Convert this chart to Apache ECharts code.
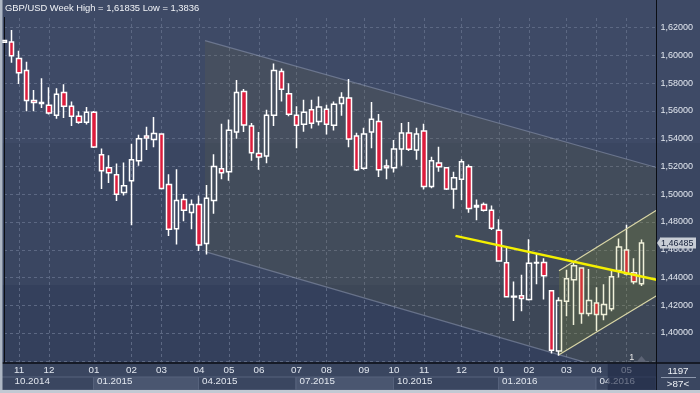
<!DOCTYPE html>
<html><head><meta charset="utf-8">
<script src="https://cdn.jsdelivr.net/npm/echarts@6/dist/echarts.min.js"></script>
<style>html,body{margin:0;padding:0;background:#3c4862;}#c{width:700px;height:393px;}</style>
</head><body><div id="c"></div>
<script>
// ---- data (GBP/USD weekly) ----
const opens = [1.6095,1.6098,1.5979,1.5891,1.5676,1.5654,1.5641,1.5569,1.5734,1.5634,1.5562,1.5519,1.5591,1.5284,1.5191,1.5141,1.5012,1.5098,1.5241,1.5419,1.5395,1.5434,1.5071,1.4752,1.4962,1.4869,1.4926,1.4645,1.4955,1.5184,1.5162,1.5448,1.5741,1.5491,1.5293,1.5276,1.5569,1.5884,1.5724,1.5569,1.5505,1.5609,1.5524,1.5612,1.5498,1.5654,1.5693,1.5419,1.5188,1.5448,1.5525,1.5204,1.5191,1.5326,1.5441,1.5319,1.5455,1.5055,1.5226,1.5191,1.5038,1.5109,1.5198,1.4909,1.4926,1.4884,1.4741,1.4507,1.4259,1.4269,1.4241,1.4504,1.4509,1.4305,1.3871,1.4229,1.4384,1.4469,1.4141,1.4216,1.4134,1.4174,1.4450,1.4598,1.4434,1.4355];
const closes = [1.6109,1.5998,1.5876,1.5676,1.5662,1.5661,1.5586,1.5721,1.5634,1.5562,1.5519,1.5591,1.5341,1.5169,1.5155,1.5000,1.5062,1.5248,1.5400,1.5405,1.5438,1.5041,1.4748,1.4955,1.4884,1.4926,1.4634,1.4971,1.5200,1.5155,1.5462,1.5734,1.5500,1.5300,1.5269,1.5569,1.5891,1.5757,1.5576,1.5498,1.5591,1.5512,1.5629,1.5505,1.5648,1.5698,1.5398,1.5176,1.5434,1.5541,1.5176,1.5191,1.5326,1.5441,1.5325,1.5434,1.5055,1.5241,1.5198,1.5038,1.5119,1.5234,1.4898,1.4919,1.4884,1.4755,1.4519,1.4262,1.4264,1.4248,1.4502,1.4509,1.4412,1.3876,1.4234,1.4391,1.4484,1.4141,1.4234,1.4134,1.4205,1.4405,1.4619,1.4426,1.4369,1.46485];
const lows = [1.6093,1.5948,1.5795,1.5598,1.5598,1.5621,1.5574,1.5545,1.5550,1.5491,1.5509,1.5502,1.5334,1.5038,1.5081,1.4952,1.4991,1.4776,1.5205,1.5319,1.5338,1.5034,1.4700,1.4638,1.4805,1.4748,1.4591,1.4566,1.4859,1.5109,1.5098,1.5400,1.5448,1.5241,1.5176,1.5224,1.5491,1.5669,1.5562,1.5331,1.5450,1.5474,1.5495,1.5431,1.5459,1.5566,1.5339,1.5168,1.5176,1.5332,1.5125,1.5109,1.5157,1.5205,1.5312,1.5248,1.5034,1.5043,1.5162,1.5031,1.4895,1.4959,1.4866,1.4812,1.4876,1.4743,1.4514,1.4257,1.4086,1.4157,1.4234,1.4352,1.4241,1.3852,1.3836,1.4121,1.4057,1.4066,1.4121,1.4014,1.4091,1.4157,1.4400,1.4414,1.4352,1.4338];
const highs = [1.6111,1.61835,1.6034,1.5955,1.5752,1.5836,1.5771,1.5764,1.5793,1.5669,1.5598,1.5629,1.5600,1.5329,1.5281,1.5221,1.5229,1.5364,1.5429,1.5486,1.5557,1.5439,1.5145,1.5181,1.5002,1.4962,1.4991,1.5066,1.5288,1.5509,1.5538,1.5824,1.5759,1.5514,1.5448,1.5609,1.5943,1.5907,1.5800,1.5634,1.5681,1.5681,1.5705,1.5645,1.5669,1.5736,1.5831,1.5443,1.5479,1.5664,1.5579,1.5250,1.5391,1.5514,1.5521,1.5479,1.5509,1.5271,1.5343,1.5195,1.5162,1.5252,1.5214,1.4962,1.4941,1.4919,1.4819,1.4621,1.4371,1.4419,1.4676,1.4574,1.4538,1.4307,1.4257,1.4455,1.4509,1.4471,1.4462,1.4329,1.4352,1.4448,1.4681,1.4781,1.4538,1.4674];
const slotCount = 88; // visible weekly slots (last two empty)
const monthTicks = {2:'11',6:'12',12:'01',17:'02',21:'03',26:'04',30:'05',34:'06',39:'07',43:'08',48:'09',52:'10',56:'11',61:'12',66:'01',70:'02',75:'03',79:'04',83:'05'};
const quarterTicks = {1:'10.2014',12:'01.2015',26:'04.2015',39:'07.2015',52:'10.2015',66:'01.2016',79:'04.2016'};
const yMin = 1.36, yMax = 1.64, yStep = 0.02;
const titleText = 'GBP/USD Week High = 1,61835 Low = 1,3836';
const lastPrice = 1.46485, lastPriceText = '1,46485';
// trend channels: [slot position, price]
const bigUpper = [[26.8, 1.6107], [87, 1.5193]];
const bigLower = [[26.8, 1.4586], [87, 1.3639]];
const smallUpper = [[74.0, 1.4448], [87, 1.4884]];
const smallLower = [[74.0, 1.3843], [87, 1.4269]];
const yellowLine = [[60.2, 1.4700], [87, 1.4384]];
const barCountText = '1197', visibleText = '>87<';

// ---- chart ----
const weeks = Array.from({length: slotCount}, (_, i) => 'W' + i);
const candleData = weeks.map((_, i) => i < opens.length ? [opens[i], closes[i], lows[i], highs[i]] : '-');
const FONT = 'Liberation Sans, Arial, sans-serif';
const LBL = '#e2e7ef';
const chart = echarts.init(document.getElementById('c'));
const option = {
  animation: false,
  backgroundColor: 'transparent',
  textStyle: {fontFamily: FONT},
  grid: {left: 4, top: -3.5, width: 652.5, height: 392, containLabel: false},
  xAxis: [
    {type: 'category', data: weeks, boundaryGap: false, position: 'bottom', offset: -26, z: 60,
     axisLine: {show: false}, axisTick: {show: false}, splitLine: {show: false},
     axisLabel: {interval: (i) => monthTicks[i] !== undefined, formatter: (v, i) => monthTicks[i] || '',
                 color: LBL, fontSize: 9.8, margin: 3}},
    {type: 'category', data: weeks, boundaryGap: false, position: 'bottom', z: 0,
     axisLine: {show: false}, axisTick: {show: false}, axisLabel: {show: false},
     splitLine: {show: true, interval: (i) => monthTicks[i] !== undefined, lineStyle: {color: '#5c6883', type: [3, 3], width: 1}}},
    {type: 'value', min: 0, max: slotCount - 1, show: false},
    {type: 'category', data: weeks, boundaryGap: false, position: 'bottom', offset: -15.5, z: 60,
     axisLine: {show: false}, axisTick: {show: false}, splitLine: {show: false},
     axisLabel: {interval: (i) => quarterTicks[i] !== undefined, formatter: (v, i) => quarterTicks[i] || '',
                 color: LBL, fontSize: 9.8, margin: 3.5, align: 'left', padding: [0, 0, 0, 3]}}
  ],
  yAxis: [{type: 'value', min: yMin, max: yMax, interval: yStep, position: 'right', z: 0,
     axisLine: {show: true, lineStyle: {color: '#0b0e14', width: 1}}, axisTick: {show: false},
     splitLine: {lineStyle: {color: '#5c6883', type: [3, 3], width: 1}},
     axisLabel: {margin: 4, color: LBL, fontSize: 9,
       formatter: (v) => (v < 1.39 || v > 1.63) ? '' : v.toFixed(5).replace('.', ',')}}],
  series: [
    {type: 'custom', xAxisIndex: 2, yAxisIndex: 0, z: 1, silent: true, data: [[0, 1.5]],
     renderItem: (params, api) => {
       const u0 = api.coord(bigUpper[0]), u1 = api.coord(bigUpper[1]);
       const l0 = api.coord(bigLower[0]), l1 = api.coord(bigLower[1]);
       return {type: 'group', children: [
         {type: 'polygon', shape: {points: [u0, u1, l1, l0]}, style: {fill: 'rgba(120,110,60,0.14)'}},
         {type: 'polyline', shape: {points: [u0, u1]}, style: {stroke: 'rgba(150,160,185,0.5)', lineWidth: 1.2, fill: null}},
         {type: 'polyline', shape: {points: [l0, l1]}, style: {stroke: 'rgba(150,160,185,0.5)', lineWidth: 1.2, fill: null}}
       ]};
     }},
    {type: 'candlestick', xAxisIndex: 0, yAxisIndex: 0, z: 2, data: candleData, barWidth: 5.2,
     itemStyle: {color: 'rgba(0,0,0,0)', color0: '#dc1c3c', borderColor: '#ffffff', borderColor0: '#ffffff', borderWidth: 1.5}},
    {type: 'custom', xAxisIndex: 2, yAxisIndex: 0, z: 3, silent: true, data: [[0, 1.5]],
     renderItem: (params, api) => {
       const u0 = api.coord(smallUpper[0]), u1 = api.coord(smallUpper[1]);
       const l0 = api.coord(smallLower[0]), l1 = api.coord(smallLower[1]);
       return {type: 'group', children: [
         {type: 'polygon', shape: {points: [u0, u1, l1, l0]}, style: {fill: 'rgba(160,165,30,0.17)'}},
         {type: 'polyline', shape: {points: [u0, u1]}, style: {stroke: '#d9d6a6', lineWidth: 1.2, fill: null}},
         {type: 'polyline', shape: {points: [l0, l1]}, style: {stroke: '#d9d6a6', lineWidth: 1.2, fill: null}}
       ]};
     }},
    {type: 'line', xAxisIndex: 2, yAxisIndex: 0, z: 4, data: yellowLine, showSymbol: false, symbol: 'none',
     lineStyle: {color: '#f4f000', width: 2.5}, silent: true}
  ]
};
chart.setOption(option);

const px = (i, p) => chart.convertToPixel({xAxisIndex: 2, yAxisIndex: 0}, [i, p]);
const xOf = (i) => px(i, 1.5)[0];
const plotRight = xOf(slotCount - 1);
const axisY = px(0, yMin)[1] - 25.5; // x-axis line position
const els = [];
// background bands
els.push({type: 'rect', z: -100, shape: {x: 0, y: 0, width: 700, height: 143}, style: {fill: '#3e4a66'}});
els.push({type: 'rect', z: -100, shape: {x: 0, y: 143, width: 700, height: 142}, style: {fill: '#3a4661'}});
els.push({type: 'rect', z: -100, shape: {x: 0, y: 285, width: 700, height: 80}, style: {fill: '#34405c'}});
// title strip (hides grid lines)
els.push({type: 'rect', z: 50, shape: {x: 0, y: 0, width: plotRight, height: 17}, style: {fill: '#3e4a66'}});
els.push({type: 'text', z: 61, x: 5, y: 8, style: {text: titleText, fill: '#f2f4f8', fontSize: 9.4, fontFamily: FONT, verticalAlign: 'middle'}});
// last price tag on the value axis
const tagY = px(0, lastPrice)[1];
els.push({type: 'polygon', z: 61, shape: {points: [[plotRight + 0.5, tagY], [plotRight + 4, tagY - 5.5], [plotRight + 4, tagY + 5.5]]}, style: {fill: '#c8cdd6'}});
els.push({type: 'rect', z: 61, shape: {x: plotRight + 3.5, y: tagY - 5.5, width: 36, height: 11}, style: {fill: '#c8cdd6'}});
els.push({type: 'text', z: 62, x: plotRight + 4.5, y: tagY + 0.5, style: {text: lastPriceText, fill: '#15203a', fontSize: 9, fontFamily: FONT, verticalAlign: 'middle'}});
// bottom axis panel
els.push({type: 'rect', z: 50, shape: {x: 0, y: axisY, width: 700, height: 393 - axisY}, style: {fill: '#3a4660'}});
const qIdx = Object.keys(quarterTicks).map(Number);
const qEdges = [0].concat(qIdx.slice(1)).concat([slotCount - 1]);
for (let k = 0; k < qEdges.length - 1; k++) {
  const x0 = k === 0 ? 0 : xOf(qEdges[k]) - 0.5, x1 = xOf(qEdges[k + 1]) - 0.5;
  els.push({type: 'rect', z: 52, shape: {x: x0, y: axisY + 14, width: x1 - x0, height: 13},
    style: {fill: k % 2 === 1 ? '#4a5670' : '#3a4660', stroke: '#56627c', lineWidth: 1}});
}
els.push({type: 'line', z: 55, shape: {x1: 0, y1: axisY, x2: 700, y2: axisY}, style: {stroke: '#0b0e14', lineWidth: 1.5}});
els.push({type: 'line', z: 55, shape: {x1: plotRight, y1: 0, x2: plotRight, y2: 390}, style: {stroke: '#0b0e14', lineWidth: 1}});
// dimmed last-period overlay
const dimX = xOf(80.5);
els.push({type: 'rect', z: 70, shape: {x: dimX, y: axisY + 1, width: plotRight - dimX, height: 390 - axisY - 1}, style: {fill: 'rgba(30,40,68,0.6)'}});
// bottom-right counter box
els.push({type: 'text', z: 61, x: 678, y: 371, style: {text: barCountText, fill: '#eef1f6', fontSize: 9.8, fontFamily: FONT, align: 'center', verticalAlign: 'middle'}});
els.push({type: 'line', z: 61, shape: {x1: 661, y1: 377.5, x2: 696, y2: 377.5}, style: {stroke: '#8d98ad', lineWidth: 1}});
els.push({type: 'text', z: 61, x: 678, y: 384, style: {text: visibleText, fill: '#eef1f6', fontSize: 9.8, fontFamily: FONT, align: 'center', verticalAlign: 'middle'}});
// event marker near the last bars
const mk = px(83.7, yMin);
els.push({type: 'text', z: 61, x: mk[0], y: axisY - 5, style: {text: '1', fill: '#e8e8e8', fontSize: 9, fontFamily: FONT, align: 'center', verticalAlign: 'middle'}});
const tx = xOf(85);
els.push({type: 'polygon', z: 61, shape: {points: [[tx - 5, axisY - 1], [tx, axisY - 7], [tx + 5, axisY - 1]]}, style: {fill: '#5d6475'}});
// outer frame
els.push({type: 'rect', z: 80, shape: {x: 0, y: 0, width: 2.5, height: 393}, style: {fill: '#aeb7c4'}});
els.push({type: 'rect', z: 80, shape: {x: 0, y: 390, width: 700, height: 3}, style: {fill: '#c2c9d3'}});
chart.setOption({graphic: {elements: els}});
</script></body></html>
